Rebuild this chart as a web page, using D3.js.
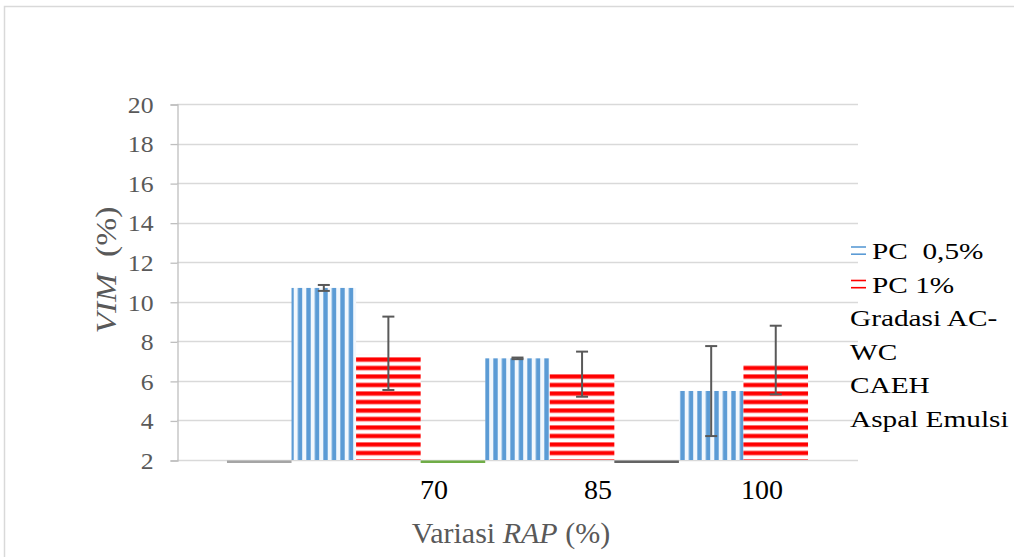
<!DOCTYPE html>
<html>
<head>
<meta charset="utf-8">
<script src="https://cdn.jsdelivr.net/npm/d3@7"></script>
<style>
  body { margin: 0; background: #fff; }
  text { font-family: "Liberation Serif", "Times New Roman", serif; }
</style>
</head>
<body>
<div class="chart"></div>
<script>
"use strict";

// data
var categories = ["70", "85", "100"];
var series = ["base", "pc05", "pc1"];
var baseVals = [2, 2, 2];
var baseColors = ["#a5a5a5", "#70ad47", "#636363"];
var pc05Vals = [10.70, 7.14, 5.49];
var pc05ErrPlus = [0.15, 0.04, 2.27];
var pc05ErrMinus = [0.15, 0.04, 2.28];
var pc1Vals = [7.36, 6.35, 6.88];
var pc1ErrPlus = [1.89, 1.13, 1.91];
var pc1ErrMinus = [1.82, 1.15, 1.56];
var yTicks = [2, 4, 6, 8, 10, 12, 14, 16, 18, 20];
var legendItems = ["PC  0,5%", "PC 1%"];
var legendExtra = ["Gradasi AC-", "WC", "CAEH", "Aspal Emulsi"];

var width = 1014,
    height = 557;
var margin = {left: 177, right: 156, top: 104, bottom: 97};

var svg = d3.select(".chart")
            .append("svg")
            .attr("width", width)
            .attr("height", height);

// outer frame of the chart area
svg.append("rect")
   .attr("x", 4.5).attr("y", 6.5)
   .attr("width", 1100).attr("height", 700)
   .attr("fill", "#fff")
   .attr("stroke", "#d9d9d9")
   .attr("stroke-width", 1.5);

var defs = svg.append("defs");

var pv = defs.append("pattern")
    .attr("id", "vstripe")
    .attr("patternUnits", "userSpaceOnUse")
    .attr("width", 8.5).attr("height", 10);
pv.append("rect").attr("width", 8.5).attr("height", 10).attr("fill", "#f3f8fd");
pv.append("rect").attr("x", 0.3).attr("width", 4.4).attr("height", 10).attr("fill", "#5b9bd5");

var ph = defs.append("pattern")
    .attr("id", "hstripe")
    .attr("patternUnits", "userSpaceOnUse")
    .attr("width", 10).attr("height", 8.5);
ph.append("rect").attr("width", 10).attr("height", 8.5).attr("fill", "#fff");
ph.append("rect").attr("y", 0.4).attr("width", 10).attr("height", 4.2).attr("fill", "#ff0000");
ph.append("rect").attr("y", 4.6).attr("width", 10).attr("height", 0.8).attr("fill", "#ffc4c4");

var x = d3.scaleBand()
    .domain(categories)
    .range([margin.left, width - margin.right])
    .paddingInner(0)
    .paddingOuter(0.258);

var xs = d3.scaleBand()
    .domain(series)
    .range([0, x.bandwidth()]);

var y = d3.scaleLinear()
    .domain([2, 20])
    .range([height - margin.bottom, margin.top]);

// gridlines
svg.append("g")
   .selectAll("line")
   .data(yTicks).enter()
   .append("line")
   .attr("x1", margin.left)
   .attr("x2", width - margin.right)
   .attr("y1", function(d){ return Math.round(y(d)) + 0.5; })
   .attr("y2", function(d){ return Math.round(y(d)) + 0.5; })
   .attr("stroke", "#d9d9d9")
   .attr("stroke-width", 1.3);

// y axis
var tickStretch = 1.12;
var yAxis = svg.append("g")
   .attr("transform", "translate(" + (margin.left + 0.5) + ",0.5)")
   .call(d3.axisLeft(y).tickValues(yTicks).tickSize(7).tickPadding(17).tickFormat(d3.format("d")))
   .attr("font-family", "'Liberation Serif', 'Times New Roman', serif")
   .attr("font-size", 23);
yAxis.select(".domain").attr("stroke", "#bfbfbf").attr("stroke-width", 1.3);
yAxis.selectAll(".tick line").attr("stroke", "#bfbfbf").attr("stroke-width", 1.3);
yAxis.selectAll(".tick text")
     .attr("fill", "#595959")
     .style("font-family", "'Liberation Serif', 'Times New Roman', serif")
     .style("font-size", "23px")
     .attr("x", -24 / tickStretch)
     .attr("transform", "scale(" + tickStretch + ",1)")
     .attr("dy", "0.34em");

// bars
var rows = categories.map(function(c, i){
  return {cat: c, i: i};
});

var base = svg.append("g")
   .selectAll("rect")
   .data(rows).enter()
   .append("rect")
   .attr("x", function(d){ return x(d.cat) + xs("base"); })
   .attr("width", xs.bandwidth())
   .attr("y", function(d){ return y(baseVals[d.i]) + 0.5; })
   .attr("height", 2.5)
   .attr("fill", function(d){ return baseColors[d.i]; });

var blue = svg.append("g")
   .selectAll("rect")
   .data(rows).enter()
   .append("rect")
   .attr("x", function(d){ return x(d.cat) + xs("pc05"); })
   .attr("width", xs.bandwidth())
   .attr("y", function(d){ return y(pc05Vals[d.i]); })
   .attr("height", function(d){ return y(2) - y(pc05Vals[d.i]); })
   .attr("fill", "url(#vstripe)");

var red = svg.append("g")
   .selectAll("rect")
   .data(rows).enter()
   .append("rect")
   .attr("x", function(d){ return x(d.cat) + xs("pc1"); })
   .attr("width", xs.bandwidth())
   .attr("y", function(d){ return y(pc1Vals[d.i]); })
   .attr("height", function(d){ return y(2) - y(pc1Vals[d.i]); })
   .attr("fill", "url(#hstripe)");

// error bars
function errorBars(key, vals, plus, minus){
  var g = svg.append("g")
     .attr("stroke", "#595959")
     .attr("stroke-width", 2);
  var cx = function(d){ return x(d.cat) + xs(key) + xs.bandwidth() / 2; };
  g.selectAll(".stem")
   .data(rows).enter()
   .append("line")
   .attr("x1", cx).attr("x2", cx)
   .attr("y1", function(d){ return y(vals[d.i] + plus[d.i]); })
   .attr("y2", function(d){ return y(vals[d.i] - minus[d.i]); });
  g.selectAll(".capTop")
   .data(rows).enter()
   .append("line")
   .attr("x1", function(d){ return cx(d) - 6; })
   .attr("x2", function(d){ return cx(d) + 6; })
   .attr("y1", function(d){ return y(vals[d.i] + plus[d.i]); })
   .attr("y2", function(d){ return y(vals[d.i] + plus[d.i]); });
  g.selectAll(".capBot")
   .data(rows).enter()
   .append("line")
   .attr("x1", function(d){ return cx(d) - 6; })
   .attr("x2", function(d){ return cx(d) + 6; })
   .attr("y1", function(d){ return y(vals[d.i] - minus[d.i]); })
   .attr("y2", function(d){ return y(vals[d.i] - minus[d.i]); });
}
errorBars("pc05", pc05Vals, pc05ErrPlus, pc05ErrMinus);
errorBars("pc1", pc1Vals, pc1ErrPlus, pc1ErrMinus);

// category labels (they sit off-centre in the original)
var xl = d3.scalePoint()
    .domain(categories)
    .range([margin.left + 257, margin.left + 585]);

svg.append("g")
   .selectAll("text")
   .data(categories).enter()
   .append("text")
   .attr("x", function(d){ return xl(d); })
   .attr("y", 499)
   .attr("text-anchor", "middle")
   .style("font-size", "28px")
   .attr("fill", "#000")
   .text(function(d){ return d; });

// axis titles
var xt = svg.append("text")
   .attr("x", 511)
   .attr("y", 543)
   .attr("text-anchor", "middle")
   .style("font-size", "30px")
   .attr("fill", "#595959");
xt.append("tspan").text("Variasi ");
xt.append("tspan").style("font-style", "italic").text("RAP");
xt.append("tspan").text(" (%)");

var yt = svg.append("text")
   .attr("transform", "translate(116,270) rotate(-90) scale(1.12,1)")
   .attr("text-anchor", "middle")
   .style("font-size", "30px")
   .style("white-space", "pre")
   .attr("fill", "#595959");
yt.append("tspan").style("font-style", "italic").text("VIM");
yt.append("tspan").text("  (%)");

// legend
var legend = svg.append("g");
var legendColors = ["#5b9bd5", "#ff0000"];
var lineH = 33.5;

legendItems.forEach(function(t, i){
  var by = 259 + i * lineH;
  [-12, -4.8].forEach(function(off){
    legend.append("line")
          .attr("x1", 851).attr("x2", 866)
          .attr("y1", by + off).attr("y2", by + off)
          .attr("stroke", legendColors[i])
          .attr("stroke-width", 1.6);
  });
  legend.append("text")
        .attr("transform", "translate(872," + by + ") scale(1.22,1)")
        .style("font-size", "24px")
        .style("white-space", "pre")
        .attr("fill", "#000")
        .text(t);
});

legendExtra.forEach(function(t, i){
  var by = 259 + (i + 2) * lineH;
  legend.append("text")
        .attr("transform", "translate(850," + by + ") scale(1.22,1)")
        .style("font-size", "24px")
        .attr("fill", "#000")
        .text(t);
});
</script>
</body>
</html>
